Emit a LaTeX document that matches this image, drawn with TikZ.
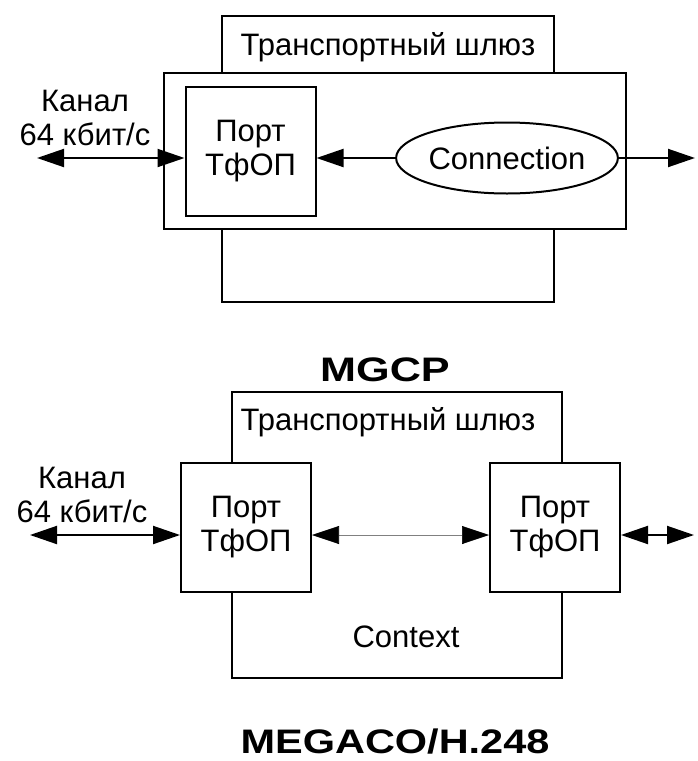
\documentclass[tikz,border=0pt]{standalone}
\usepackage{fontspec}
\setmainfont{Liberation Sans}
\usetikzlibrary{arrows.meta,shapes.geometric}

\newcommand{\diagfont}{\fontsize{31}{34}\selectfont}
\newcommand{\titlefont}{\fontsize{34}{36}\selectfont\bfseries}

\tikzset{
  tip/.tip={Triangle[length=27pt,width=18pt,color=black]},
  frame/.style={draw, line width=2pt, fill=white, inner sep=0pt},
  portbox/.style={frame, minimum width=130pt, minimum height=129pt, align=center, font=\diagfont},
  conn/.style={line width=2pt, tip-tip},
  txt/.style={align=center, font=\diagfont, inner sep=0pt},
  title/.style={font=\titlefont, inner sep=0pt}
}

\begin{document}
\begin{tikzpicture}[x=1pt, y=-1pt]
    \useasboundingbox (0,0) rectangle (697,761);

    % Draw the MGCP gateway (tall frame behind the wide one)
    \node[frame, minimum width=332pt, minimum height=286pt] (gwA) at (388,159) {};
    \node[frame, minimum width=462pt, minimum height=156pt] (gwB) at (395,151) {};
    \node[txt] (gwlabelA) at (388,47) {Транспортный шлюз};

    % Port and connection
    \node[portbox] (portA) at (250.5,151) {Порт\\ТфОП};
    \node[frame, ellipse, minimum width=210pt, minimum height=71pt, font=\diagfont] (connA) at (507,158) {Connection};

    % Channel label and arrows
    \node[txt] (chlabelA) at (85,118) {Канал\\64 кбит/с};
    \coordinate (inA) at (37,158);
    \coordinate (outA) at (695,158);
    \draw[conn] (inA) -- (inA -| portA.west);
    \draw[line width=2pt, tip-] (portA.east |- connA.west) -- (connA.west);
    \draw[line width=2pt, -tip] (connA.east) -- (outA);

    \node[title] (mgcp) at (385,370) {\scalebox{1.27}[1]{MGCP}};

    % Draw the MEGACO gateway
    \node[frame, minimum width=330pt, minimum height=286pt] (gwC) at (397,535) {};
    \node[txt] (gwlabelC) at (388,422) {Транспортный шлюз};
    \node[txt] (context) at (406,637) {Context};

    % Two ports in one context
    \node[portbox] (portL) at (246,527.5) {Порт\\ТфОП};
    \node[portbox] (portR) at (555,527.5) {Порт\\ТфОП};

    \node[txt] (chlabelC) at (82,495) {Канал\\64 кбит/с};
    \coordinate (inC) at (30,535);
    \coordinate (outC) at (694,535);
    \draw[conn] (inC) -- (inC -| portL.west);
    \draw[conn, line width=0.6pt, draw=gray] (inC -| portL.east) -- (inC -| portR.west);
    \draw[conn] (inC -| portR.east) -- (outC);

    \node[title] (megaco) at (395,742) {\scalebox{1.22}[1]{MEGACO/H.248}};
\end{tikzpicture}
\end{document}
